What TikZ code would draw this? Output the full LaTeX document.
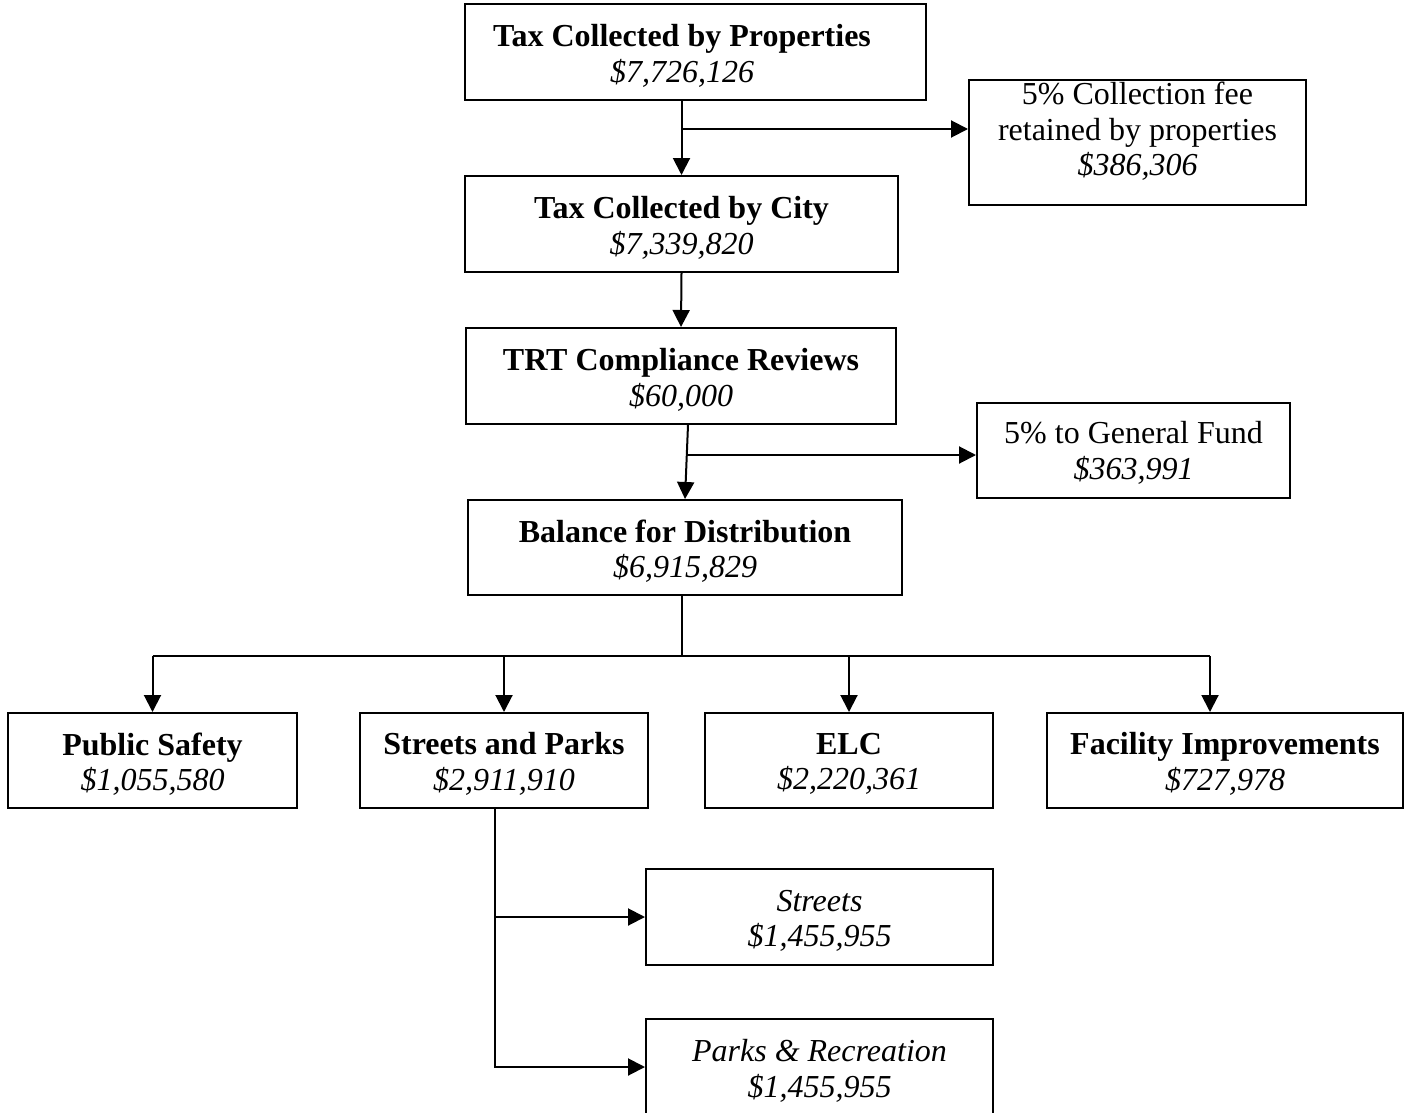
\documentclass[tikz,border=0pt]{standalone}
\usepackage{fontspec}
\setmainfont{Liberation Serif}
\usetikzlibrary{arrows.meta}
\begin{document}
\begin{tikzpicture}[x=1pt,y=-1pt,
  box/.style={draw, line width=2pt, inner sep=0pt},
  txt/.style={align=center, inner sep=0pt, font=\fontsize{32}{35.5}\selectfont},
  conn/.style={line width=2pt},
  arr/.style={line width=2pt, -{Triangle[length=17pt,width=17pt]}}]
\useasboundingbox (0,0) rectangle (1413,1113);
% boxes
\node[box, minimum width=461pt, minimum height=96pt] (b1) at (695.5,52) {};
\node[box, minimum width=337pt, minimum height=125pt] (b2) at (1137.5,142.5) {};
\node[box, minimum width=433pt, minimum height=96pt] (b3) at (681.5,224) {};
\node[box, minimum width=430pt, minimum height=96pt] (b4) at (681,376) {};
\node[box, minimum width=313pt, minimum height=95pt] (b5) at (1133.5,450.5) {};
\node[box, minimum width=434pt, minimum height=95pt] (b6) at (685,547.5) {};
\node[box, minimum width=289pt, minimum height=95pt] (b7) at (152.5,760.5) {};
\node[box, minimum width=288pt, minimum height=95pt] (b8) at (504,760.5) {};
\node[box, minimum width=288pt, minimum height=95pt] (b9) at (849,760.5) {};
\node[box, minimum width=356pt, minimum height=95pt] (b10) at (1225,760.5) {};
\node[box, minimum width=347pt, minimum height=96pt] (b11) at (819.5,917) {};
\node[box, minimum width=347pt, minimum height=96pt] (b12) at (819.5,1067) {};
% texts
\node[txt] (t1) at (682,56) {\textbf{Tax Collected by Properties}\\\textit{\$7,726,126}};
\node[txt] (t2) at (1137.5,131.5) {5\% Collection fee\\retained by properties\\\textit{\$386,306}};
\node[txt] (t3) at (681.5,228) {\textbf{Tax Collected by City}\\\textit{\$7,339,820}};
\node[txt] (t4) at (681,380) {\textbf{TRT Compliance Reviews}\\\textit{\$60,000}};
\node[txt] (t5) at (1133.5,453) {5\% to General Fund\\\textit{\$363,991}};
\node[txt] (t6) at (685,551) {\textbf{Balance for Distribution}\\\textit{\$6,915,829}};
\node[txt] (t7) at (152.5,764) {\textbf{Public Safety}\\\textit{\$1,055,580}};
\node[txt] (t8) at (504,764) {\textbf{Streets and Parks}\\\textit{\$2,911,910}};
\node[txt] (t9) at (849,764) {\textbf{ELC}\\\textit{\$2,220,361}};
\node[txt] (t10) at (1225,764) {\textbf{Facility Improvements}\\\textit{\$727,978}};
\node[txt] (t11) at (819.5,921) {\textit{Streets}\\\textit{\$1,455,955}};
\node[txt] (t12) at (819.5,1071) {\textit{Parks \& Recreation}\\\textit{\$1,455,955}};
% connectors
\draw[arr] (b1.south -| b3.north) -- (b3.north);
\coordinate (j1) at (681,129);
\draw[arr] (j1) -- (j1 -| b2.west);
\draw[arr] (b3.south) -- (b4.north);
\coordinate (s4) at ([xshift=7pt]b4.south);
\draw[arr] (s4) -- (b6.north);
\coordinate (j2) at (686.8,455);
\draw[arr] (j2) -- (j2 -| b5.west);
\coordinate (bus) at (682,656);
\coordinate (busr) at (1210,656);
\draw[conn] (b6.south -| bus) -- (bus);
\draw[conn] (bus -| b7.north) -- (busr);
\draw[arr] (bus -| b7.north) -- (b7.north);
\draw[arr] (bus -| b8.north) -- (b8.north);
\draw[arr] (bus -| b9.north) -- (b9.north);
\draw[arr] (busr) -- (busr |- b10.north);
\coordinate (s8) at ([xshift=-9pt]b8.south);
\draw[conn] (s8) -- (s8 |- b11.west);
\draw[arr] (s8 |- b11.west) -- (b11.west);
\draw[arr] (s8) |- (b12.west);
\end{tikzpicture}
\end{document}
